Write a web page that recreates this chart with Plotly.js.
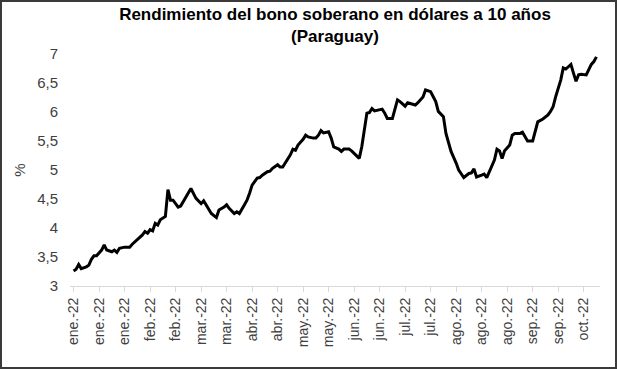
<!DOCTYPE html>
<html>
<head>
<meta charset="utf-8">
<script src="https://cdn.plot.ly/plotly-3.0.1.min.js"></script>
<style>
  html, body { margin: 0; padding: 0; background: #fff; }
  #chart { width: 617px; height: 369px; position: absolute; left: 0; top: 0; }
  #frame { position: absolute; left: 0; top: 0; width: 617px; height: 369px; box-sizing: border-box; border: 2px solid #3a3a3a; pointer-events: none; }
</style>
</head>
<body>
<div id="chart"></div>
<div id="frame"></div>
<script>
// Trading-day index (0 = first trading day of January 2022)
const dayIndex = [0,1,2,3,5,6,7,8,9,10,11,12,13,15,16,17,18,20,22,23,25,27,28,29,30,31,32,33,34,35,36,37,38,39,41,42,44,46,48,50,51,52,54,56,57,59,60,61,63,64,65,67,68,69,70,72,73,74,76,77,78,80,81,82,83,84,85,86,87,88,90,91,92,94,95,96,97,98,100,101,102,104,105,106,108,109,110,112,113,114,115,116,117,118,119,121,122,123,125,127,128,130,131,132,134,135,137,138,140,142,143,145,146,148,149,150,151,152,153,155,156,157,158,160,161,162,163,164,165,166,167,168,169,171,172,173,175,176,178,180,181,182,184,186,187,188,189,190,191,192,193,194,195,196,197,198,199,201,202,203,204,205];
// 10-year USD sovereign bond yield, Paraguay (%)
const yieldPct = [3.26,3.29,3.37,3.30,3.33,3.36,3.46,3.52,3.52,3.57,3.62,3.71,3.62,3.59,3.62,3.58,3.65,3.67,3.67,3.72,3.80,3.88,3.94,3.91,3.97,3.95,4.08,4.05,4.14,4.17,4.20,4.66,4.48,4.48,4.36,4.38,4.54,4.68,4.51,4.42,4.47,4.40,4.25,4.18,4.31,4.36,4.40,4.34,4.25,4.28,4.25,4.40,4.48,4.60,4.74,4.86,4.87,4.91,4.97,4.98,5.03,5.09,5.05,5.05,5.12,5.18,5.26,5.36,5.34,5.43,5.53,5.60,5.57,5.55,5.55,5.60,5.68,5.64,5.66,5.55,5.40,5.36,5.32,5.36,5.36,5.33,5.29,5.20,5.40,5.66,5.98,5.99,6.06,6.02,6.03,6.05,5.98,5.89,5.89,6.21,6.18,6.10,6.16,6.15,6.12,6.16,6.26,6.38,6.35,6.18,6.01,5.92,5.63,5.32,5.23,5.12,5.00,4.94,4.87,4.94,4.95,5.02,4.88,4.91,4.93,4.87,4.97,5.07,5.17,5.36,5.33,5.20,5.33,5.43,5.60,5.63,5.63,5.65,5.50,5.50,5.69,5.83,5.88,5.95,6.01,6.09,6.26,6.41,6.55,6.76,6.74,6.78,6.82,6.67,6.53,6.64,6.65,6.64,6.74,6.82,6.87,6.95];
// Category tick labels (one every 10 trading days)
const tickLabels = ["ene.-22","ene.-22","ene.-22","feb.-22","feb.-22","mar.-22","mar.-22","abr.-22","abr.-22","may.-22","may.-22","jun.-22","jun.-22","jul.-22","jul.-22","ago.-22","ago.-22","ago.-22","sep.-22","sep.-22","oct.-22"];
const tickStep = 10;
const tickVals = tickLabels.map((_, i) => i * tickStep);

const trace = {
  x: dayIndex,
  y: yieldPct,
  type: 'scatter',
  mode: 'lines',
  line: { color: '#000000', width: 3 },
  hoverinfo: 'skip'
};

const layout = {
  width: 617,
  height: 369,
  margin: { l: 70, r: 17, t: 54, b: 83 },
  paper_bgcolor: '#ffffff',
  plot_bgcolor: '#ffffff',
  separators: ',.',
  showlegend: false,
  font: { family: 'Liberation Sans, Arial, sans-serif', color: '#404040' },
  title: {
    text: '<b>Rendimiento del bono soberano en dólares a 10 años<br>(Paraguay)</b>',
    font: { family: 'Liberation Sans, Arial, sans-serif', size: 17, color: '#000000' },
    x: 0.5, xref: 'paper', xanchor: 'center',
    y: 0.945, yref: 'container', yanchor: 'top'
  },
  xaxis: {
    range: [-1.4, 206.4],
    tickmode: 'array',
    tickvals: tickVals,
    ticktext: tickLabels,
    tickangle: -90,
    tickfont: { size: 14, color: '#404040' },
    showgrid: false,
    zeroline: false,
    showline: true,
    linecolor: '#d9d9d9',
    linewidth: 1,
    ticks: 'outside',
    ticklen: 5,
    tickcolor: '#d9d9d9'
  },
  yaxis: {
    range: [3, 7],
    dtick: 0.5,
    tick0: 3,
    tickformat: '.1~f',
    tickfont: { size: 15, color: '#404040' },
    showgrid: false,
    zeroline: false,
    showline: false,
    ticks: 'outside',
    ticklen: 8,
    tickcolor: 'rgba(0,0,0,0)',
    title: { text: '%', font: { size: 15, color: '#404040' }, standoff: 7 }
  }
};

Plotly.newPlot('chart', [trace], layout, { displayModeBar: false, staticPlot: true });
</script>
</body>
</html>
